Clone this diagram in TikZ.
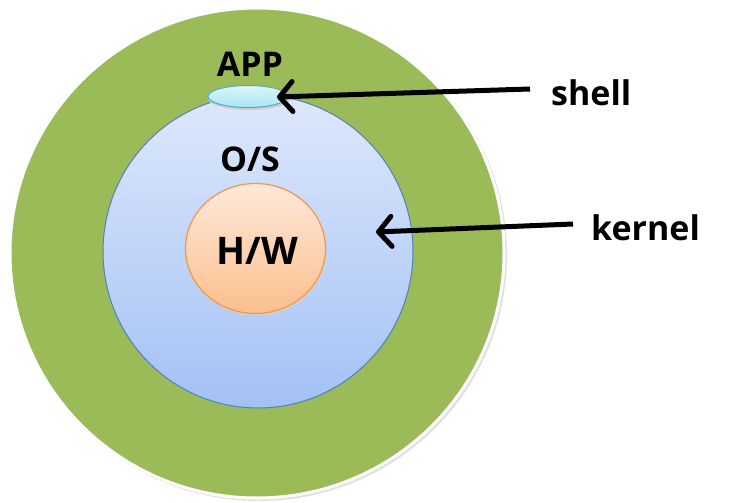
\documentclass[tikz,border=0pt]{standalone}
\usepackage{fontspec}
\setmainfont{Open Sans}
\usetikzlibrary{arrows.meta,shapes.geometric}
\definecolor{ringgreen}{HTML}{9BBB59}
\definecolor{osline}{HTML}{4F81BD}
\definecolor{ostop}{HTML}{DEE8FB}
\definecolor{osbot}{HTML}{A3C1F5}
\definecolor{hwline}{HTML}{F79646}
\definecolor{hwtop}{HTML}{FDE9DA}
\definecolor{hwbot}{HTML}{FBBF8D}
\definecolor{appline}{HTML}{4BACC6}
\definecolor{apptop}{HTML}{DDF4FA}
\definecolor{appbot}{HTML}{A9E6F5}
\tikzset{
  lbl/.style={font=\bfseries\fontsize{34}{38}\selectfont, inner sep=0pt, text=black},
  biglbl/.style={font=\bfseries\fontsize{38}{42}\selectfont, inner sep=0pt, text=black},
  pointer/.style={line width=5pt, -{Straight Barb[length=13pt,width=30pt,round]}},
}
\begin{document}
\begin{tikzpicture}[x=1pt,y=-1pt]
\useasboundingbox (0,0) rectangle (750,503);
% outer ring
\fill[black!12] (259,255) ellipse [x radius=248, y radius=246];
\node[ellipse, draw=white, line width=3pt, fill=ringgreen, minimum width=494pt, minimum height=490pt, inner sep=0pt] (app) at (257,253) {};
% O/S
\node[ellipse, draw=osline, line width=1pt, top color=ostop, bottom color=osbot, minimum width=310pt, minimum height=313pt, inner sep=0pt] (os) at (258,251.5) {};
% H/W
\fill[black!18] (256.5,250.5) ellipse [x radius=70, y radius=65];
\node[ellipse, draw=hwline, line width=1.2pt, top color=hwtop, bottom color=hwbot, minimum width=140pt, minimum height=130pt, inner sep=0pt] (hw) at (255.5,248.5) {};
% shell ellipse
\fill[black!20] (249,98.5) ellipse [x radius=41, y radius=11.5];
\node[ellipse, draw=appline, line width=1pt, top color=apptop, bottom color=appbot, minimum width=80pt, minimum height=22pt, inner sep=0pt] (sh) at (248,96.5) {};
% labels
\node[lbl] (applbl) at (250,64) {APP};
\node[lbl] (oslbl) at (250,159) {O/S};
\node[biglbl] (hwlbl) at (257,251) {H/W};
\node[lbl, anchor=west] (shell) at (551,93) {shell};
\node[lbl, anchor=west] (kernel) at (591,228) {kernel};
% pointers
\coordinate (shtip) at (277,97);
\coordinate (ktip) at (376,232);
\draw[pointer] ([xshift=-21pt,yshift=4pt]shell.west) -- (shtip);
\draw[pointer] ([xshift=-18pt,yshift=4pt]kernel.west) -- (ktip);
\end{tikzpicture}
\end{document}
